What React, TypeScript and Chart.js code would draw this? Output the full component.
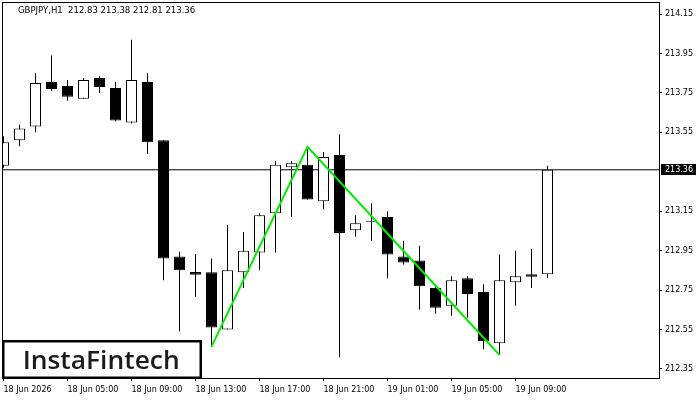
import React, { useEffect, useRef } from 'react';
import { Chart, registerables } from 'chart.js';

Chart.register(...registerables);

// ---- data ----
const symbolTitle = 'GBPJPY,H1  212.83 213.38 212.81 213.36';
const opens = [213.38, 213.51, 213.58, 213.805, 213.785, 213.72, 213.825, 213.775, 213.6, 213.805,
  213.51, 212.92, 212.842, 212.84, 212.55, 212.84, 212.94, 213.14, 213.373, 213.385,
  213.2, 213.435, 213.053, 213.1, 213.12, 212.92, 212.9, 212.76, 212.67, 212.81,
  212.74, 212.48, 212.79, 212.83, 212.83];
const highs = [213.53, 213.59, 213.85, 213.94, 213.815, 213.825, 213.835, 213.805, 214.02, 213.85,
  213.51, 212.945, 212.933, 212.91, 213.08, 213.045, 213.14, 213.405, 213.405, 213.477,
  213.45, 213.54, 213.13, 213.19, 213.15, 213.0, 212.975, 212.765, 212.82, 212.82,
  212.78, 212.93, 212.95, 212.96, 213.38];
const lows = [213.37, 213.48, 213.55, 213.76, 213.71, 213.72, 213.75, 213.605, 213.595, 213.44,
  212.8, 212.54, 212.716, 212.463, 212.55, 212.76, 212.85, 212.94, 213.12, 213.21,
  213.16, 212.41, 213.02, 213.0, 212.81, 212.88, 212.65, 212.63, 212.62, 212.61,
  212.45, 212.42, 212.67, 212.76, 212.81];
const closes = [213.5, 213.57, 213.8, 213.77, 213.73, 213.815, 213.78, 213.61, 213.815, 213.5,
  212.91, 212.85, 212.828, 212.56, 212.85, 212.95, 213.13, 213.385, 213.393, 213.21,
  213.425, 213.04, 213.089, 213.096, 212.93, 212.89, 212.77, 212.66, 212.8, 212.73,
  212.49, 212.8, 212.82, 212.818, 213.36];
const xTickIndex = [0, 4, 8, 12, 16, 20, 24, 28, 32];
const xTickLabels = ['18 Jun 2026', '18 Jun 05:00', '18 Jun 09:00', '18 Jun 13:00', '18 Jun 17:00',
  '18 Jun 21:00', '19 Jun 01:00', '19 Jun 05:00', '19 Jun 09:00'];
const yTickValues = [212.35, 212.55, 212.75, 212.95, 213.15, 213.55, 213.75, 213.95, 214.15];
const currentPrice = 213.36;
const patternIdx = [13, 19, 31];
const patternPrice = [212.463, 213.477, 212.421];
const logoText = 'InstaFintech';

// axis ranges
const xMin = -0.09375;
const xMax = 40.96875;
const yMin = 212.3042;
const yMax = 214.2109;

const FONT = '"DejaVu Sans", sans-serif';

const decor = {
  id: 'decor',
  afterDraw(chart: any) {
    const { ctx, chartArea: a, scales } = chart;
    ctx.save();
    // frame
    ctx.strokeStyle = '#000';
    ctx.lineWidth = 1;
    ctx.strokeRect(Math.round(a.left) + 0.5, Math.round(a.top) + 0.5,
      Math.round(a.right - a.left), Math.round(a.bottom - a.top));
    // title
    ctx.font = '8.5px ' + FONT;
    ctx.fillStyle = '#000';
    ctx.textBaseline = 'middle';
    ctx.textAlign = 'left';
    ctx.fillText(symbolTitle, 18, 11);
    // current price box
    const py = Math.round(scales.y.getPixelForValue(currentPrice));
    ctx.fillStyle = '#000';
    ctx.fillRect(a.right + 2, py - 6, 35, 11);
    ctx.fillStyle = '#fff';
    ctx.font = '8px ' + FONT;
    ctx.fillText(currentPrice.toFixed(2), a.right + 6, py - 0.5);
    // logo
    ctx.fillStyle = '#fff';
    ctx.fillRect(3, 341, 198, 37);
    ctx.lineWidth = 2.5;
    ctx.strokeStyle = '#000';
    ctx.strokeRect(3.25, 341.25, 197.5, 36.5);
    ctx.font = '600 26px "Open Sans", sans-serif';
    ctx.fillStyle = '#1c1c1c';
    ctx.textBaseline = 'alphabetic';
    const w = ctx.measureText(logoText).width;
    const target = 157;
    ctx.translate(22.7, 369);
    ctx.scale(target / w, 1);
    ctx.fillText(logoText, 0, 0);
    ctx.restore();
  },
};

export default function App() {
  const ref = useRef<HTMLCanvasElement>(null);
  useEffect(() => {
    const config: any = {
      type: 'bar',
      data: {
        datasets: [
          {
            type: 'line',
            label: 'pattern',
            data: patternIdx.map((x, i) => ({ x, y: patternPrice[i] })),
            borderColor: '#00ee00',
            borderWidth: 2,
            pointRadius: 0,
            tension: 0,
          },
          {
            type: 'bar',
            label: 'body',
            data: opens.map((o, i) => ({ x: i, y: [o, closes[i]] })),
            backgroundColor: opens.map((o, i) => (closes[i] >= o ? '#ffffff' : '#000000')),
            borderColor: '#000',
            borderWidth: 1,
            borderSkipped: false,
            barThickness: 11,
            grouped: false,
            inflateAmount: 0,
            minBarLength: 1,
          },
          {
            type: 'bar',
            label: 'wick',
            data: lows.map((l, i) => ({ x: i, y: [l, highs[i]] })),
            backgroundColor: '#000',
            borderWidth: 0,
            barThickness: 1,
            grouped: false,
            inflateAmount: 0,
          },
          {
            type: 'line',
            label: 'price',
            data: [{ x: xMin, y: currentPrice }, { x: xMax, y: currentPrice }],
            borderColor: '#000',
            borderWidth: 1,
            pointRadius: 0,
          },
        ],
      },
      options: {
        responsive: false,
        animation: false,
        devicePixelRatio: 1,
        layout: { padding: { left: 2, top: 2, right: 0, bottom: 0 } },
        plugins: { legend: { display: false }, tooltip: { enabled: false } },
        scales: {
          x: {
            type: 'linear',
            min: xMin,
            max: xMax,
            offset: false,
            position: 'bottom',
            grid: { drawOnChartArea: false, drawTicks: true, tickLength: 3, color: '#000', offset: false },
            border: { display: false },
            ticks: {
              autoSkip: false,
              maxRotation: 0,
              minRotation: 0,
              align: 'start',
              padding: 4,
              color: '#000',
              font: { family: FONT, size: 8 },
              callback: (_v: any, i: number) => xTickLabels[i],
            },
            afterBuildTicks: (s: any) => {
              s.ticks = xTickIndex.map((v) => ({ value: v }));
            },
            afterFit: (s: any) => {
              s.height = 22;
              s.paddingLeft = 0;
              s.paddingRight = 0;
            },
          },
          y: {
            type: 'linear',
            position: 'right',
            min: yMin,
            max: yMax,
            grid: { drawOnChartArea: false, drawTicks: true, tickLength: 3, color: '#000' },
            border: { display: false },
            ticks: {
              padding: 3,
              color: '#000',
              font: { family: FONT, size: 8 },
              callback: (v: any) => Number(v).toFixed(2),
            },
            afterBuildTicks: (s: any) => {
              s.ticks = yTickValues.map((v) => ({ value: v }));
            },
            afterFit: (s: any) => {
              s.width = 41;
              s.paddingTop = 0;
              s.paddingBottom = 0;
            },
          },
        },
      },
      plugins: [decor],
    };
    const chart = new Chart(ref.current as HTMLCanvasElement, config);
    return () => chart.destroy();
  }, []);
  return (
    <div style={{ position: 'fixed', left: 0, top: 0, width: 700, height: 400, background: '#fff' }}>
      <canvas ref={ref} width={700} height={400} style={{ display: 'block' }} />
    </div>
  );
}
